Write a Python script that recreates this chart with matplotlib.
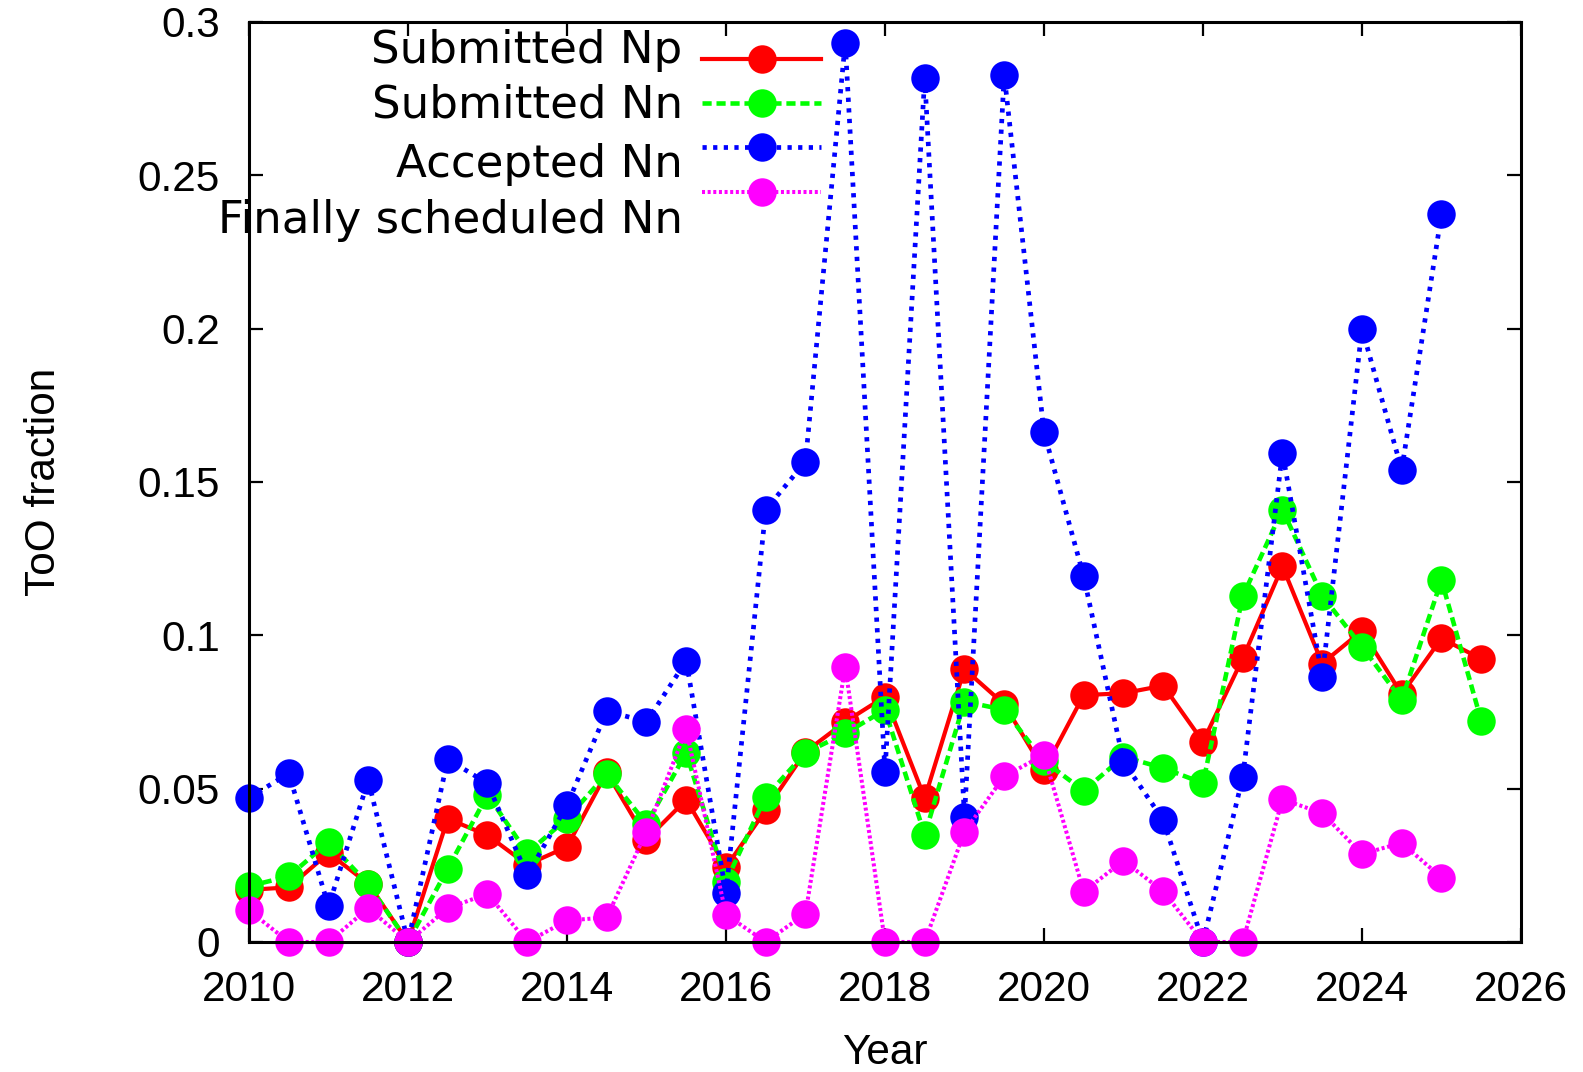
import matplotlib
matplotlib.use("Agg")
import matplotlib.pyplot as plt
from matplotlib.lines import Line2D
from matplotlib.ticker import MultipleLocator, FuncFormatter

# Half-year observing periods
periods = [2010.0, 2010.5, 2011.0, 2011.5, 2012.0, 2012.5, 2013.0, 2013.5,
           2014.0, 2014.5, 2015.0, 2015.5, 2016.0, 2016.5, 2017.0, 2017.5,
           2018.0, 2018.5, 2019.0, 2019.5, 2020.0, 2020.5, 2021.0, 2021.5,
           2022.0, 2022.5, 2023.0, 2023.5, 2024.0, 2024.5, 2025.0, 2025.5]

submitted_np = [0.017, 0.0178, 0.029, 0.019, 0.0, 0.0402, 0.0348, 0.0252,
                0.031, 0.0553, 0.0334, 0.0464, 0.0244, 0.043, 0.062, 0.0718,
                0.080, 0.0469, 0.089, 0.0775, 0.056, 0.0805, 0.0811, 0.0836,
                0.0653, 0.0925, 0.1225, 0.0908, 0.1015, 0.0808, 0.099, 0.0923]

submitted_nn = [0.0182, 0.0214, 0.0326, 0.0188, 0.0, 0.0239, 0.048, 0.029,
                0.0402, 0.0548, 0.0385, 0.0617, 0.0197, 0.0474, 0.0617, 0.068,
                0.0757, 0.0349, 0.0784, 0.0757, 0.059, 0.0493, 0.0604, 0.0567,
                0.0518, 0.1127, 0.141, 0.1129, 0.0963, 0.0789, 0.118, 0.0722]

accepted_nn = [0.047, 0.055, 0.0116, 0.0527, 0.0, 0.0596, 0.0517, 0.0217,
               0.0446, 0.0753, 0.0718, 0.0916, 0.016, 0.141, 0.1566, 0.2933,
               0.0555, 0.2818, 0.0408, 0.2827, 0.1663, 0.1192, 0.0588, 0.0398,
               0.0, 0.0537, 0.1596, 0.0864, 0.2, 0.154, 0.2373]

scheduled_nn = [0.0103, 0.0, 0.0, 0.011, 0.0, 0.011, 0.0157, 0.0,
                0.007, 0.008, 0.036, 0.0693, 0.0089, 0.0, 0.0092, 0.0897,
                0.0, 0.0, 0.036, 0.054, 0.061, 0.0164, 0.0265, 0.0165,
                0.0, 0.0, 0.0465, 0.042, 0.0287, 0.0323, 0.021]

labels = ["Submitted Np", "Submitted Nn", "Accepted Nn", "Finally scheduled Nn"]

styles = [
    dict(color="#ff0000", linestyle="-", linewidth=3.0),
    dict(color="#00ff00", dashes=(2.0, 1.05), linewidth=3.3),
    dict(color="#0000ff", dashes=(0.9, 1.35), linewidth=3.4),
    dict(color="#ff00ff", dashes=(0.75, 0.65), linewidth=2.9),
]

series = [submitted_np, submitted_nn, accepted_nn, scheduled_nn]

tick_font = "Liberation Sans"
fs = 30.5
key_fs = 32.5
msize = 20.5

fig = plt.figure(figsize=(15.83, 10.72), dpi=100)
ax = fig.add_axes([0.1573, 0.1213, 0.8035, 0.8582])

for vals, st in zip(series, styles):
    ax.plot(periods[:len(vals)], vals, marker="o", markersize=msize,
            markeredgewidth=0, clip_on=False, zorder=2, **st)

ax.set_xlim(2010, 2026)
ax.set_ylim(0, 0.3)
ax.xaxis.set_major_locator(MultipleLocator(2))
ax.yaxis.set_major_locator(MultipleLocator(0.05))
ax.yaxis.set_major_formatter(FuncFormatter(lambda v, p: f"{v:g}"))

ax.tick_params(axis="both", which="both", direction="in", top=True,
               right=True, length=10, width=1.6, labelsize=fs)
ax.tick_params(axis="x", pad=20)
ax.tick_params(axis="y", pad=21)
for lab in ax.get_xticklabels() + ax.get_yticklabels():
    lab.set_fontfamily(tick_font)

for sp in ax.spines.values():
    sp.set_linewidth(2.2)
    sp.set_zorder(3)

ax.set_xlabel("Year", fontsize=fs, family=tick_font, va="top")
ax.xaxis.set_label_coords(0.5, -0.099)
ax.set_ylabel("ToO fraction", fontsize=fs, family=tick_font)
ax.yaxis.set_label_coords(-0.1454, 0.5)

# Key: right-aligned text, sample line with a marker to its right
text_y = [0.9558, 0.8957, 0.8318, 0.7707]
line_y = [0.9595, 0.9116, 0.8645, 0.8155]
for lab, st, ty, ly in zip(labels, styles, text_y, line_y):
    ax.text(0.341, ty, lab, transform=ax.transAxes, ha="right",
            va="baseline", fontsize=key_fs, family="DejaVu Sans", zorder=4)
    ax.add_line(Line2D([0.356, 0.450], [ly, ly], transform=ax.transAxes,
                       clip_on=False, zorder=4, **st))
    ax.add_line(Line2D([0.403], [ly], transform=ax.transAxes, marker="o",
                       markersize=msize, markeredgewidth=0, linestyle="none",
                       color=st["color"], clip_on=False, zorder=4))

fig.savefig("out.png", dpi=100)
